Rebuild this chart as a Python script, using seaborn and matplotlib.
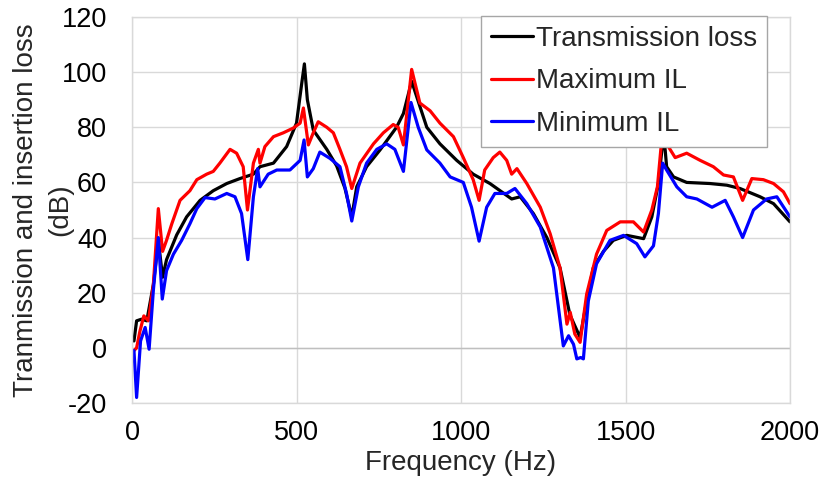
import numpy as np
import pandas as pd
import matplotlib
matplotlib.use('Agg')
import matplotlib.pyplot as plt
import seaborn as sns

# Transmission loss
tl_f = [6, 14, 29, 45, 65, 80, 93, 105, 136, 166, 207, 247, 288, 328, 369, 389, 430, 470,
        500, 516, 524, 533, 551, 592, 622, 647, 668, 683, 713, 754, 804, 825, 850, 875,
        896, 936, 987, 1037, 1088, 1154, 1180, 1220, 1261, 1301, 1331, 1346, 1362, 1382,
        1402, 1433, 1463, 1504, 1555, 1580, 1600, 1616, 1625, 1646, 1686, 1757, 1808,
        1848, 1909, 1950, 2000]
tl_db = [2.5, 9.8, 10.4, 9.8, 23, 39, 25.6, 32, 41, 47.5, 53.5, 57, 59.6, 61.4, 63, 65.7,
         67, 73, 81.5, 96, 103, 90, 79, 72, 66, 58, 47.5, 58.4, 65.7, 71.8, 80, 85, 96.7,
         87.6, 80, 74, 68, 63, 59.6, 54, 54.8, 48.7, 40, 29, 12, 8, 3.8, 17, 29, 35, 39,
         40.8, 39.6, 47.5, 59.6, 78, 65.7, 62, 60, 59.6, 59, 57.8, 54.8, 52.3, 45.7]

# Maximum IL
max_f = [6, 14, 24, 36, 50, 65, 80, 93, 105, 121, 146, 176, 197, 227, 247, 267, 298, 318,
         338, 351, 369, 384, 389, 404, 430, 460, 490, 511, 521, 536, 551, 566, 592, 612,
         632, 652, 668, 693, 734, 764, 794, 809, 825, 850, 875, 906, 936, 977, 1007, 1037,
         1055, 1072, 1098, 1118, 1139, 1154, 1170, 1200, 1241, 1271, 1301, 1322, 1332,
         1346, 1362, 1382, 1412, 1443, 1484, 1524, 1555, 1580, 1597, 1610, 1625, 1651,
         1686, 1727, 1767, 1798, 1828, 1856, 1884, 1919, 1950, 1980, 2000]
max_db = [-1, 0, 6, 11.6, 9.8, 23, 50.5, 35, 39, 45, 53.5, 57, 61, 63, 64, 67, 72, 70.6,
          65.7, 50, 67, 72, 67, 73, 76.6, 78, 79.7, 81.5, 87, 73.6, 78, 82, 80, 78, 72,
          65.7, 57.8, 67, 74, 78, 81, 80, 73.6, 101, 88.8, 86, 81.5, 76.6, 69, 61, 53.5,
          64.5, 69, 71, 68, 63, 65, 59.6, 51, 41.4, 29, 8.6, 12.9, 5, 2, 19.5, 34, 42.6,
          45.7, 45.7, 42, 50, 58.4, 75.4, 74, 69, 70.6, 68, 65.7, 62.7, 62, 53.5, 61.4,
          61, 59.6, 56.6, 52.3]

# Minimum IL
min_f = [6, 14, 26, 40, 52, 65, 80, 92, 105, 126, 151, 176, 197, 222, 252, 288, 313, 333,
         352, 369, 382, 389, 414, 440, 480, 511, 523, 533, 551, 571, 602, 632, 652, 668,
         688, 713, 744, 774, 799, 825, 848, 870, 896, 936, 967, 1007, 1032, 1055, 1078,
         1103, 1139, 1164, 1200, 1241, 1281, 1311, 1327, 1342, 1352, 1364, 1372, 1387,
         1412, 1453, 1494, 1534, 1559, 1585, 1600, 1613, 1625, 1656, 1686, 1717, 1763,
         1803, 1828, 1856, 1889, 1929, 1960, 2000]
min_db = [-1, -18, 2.5, 7.4, -0.5, 21, 40, 17.7, 28, 34, 39, 45, 50.5, 54.5, 54, 56, 54.8,
          48.7, 32, 54.8, 65, 58.4, 63, 64.5, 64.5, 68, 75.4, 62, 65, 71, 68.7, 65.7, 56,
          46, 58.4, 67, 72, 74, 72, 64, 89, 80, 71.8, 67, 62, 60, 51, 38.7, 51, 56, 56,
          57.8, 52.3, 43.8, 29, 0.7, 4.4, 1.3, -4, -3.5, -4, 17, 30.5, 39, 40.8, 37.8, 33,
          37, 48.7, 67, 64.5, 58.4, 54.8, 54, 51, 53.5, 47.5, 40, 50, 54, 54.8, 47.5]

series_names = ['Transmission loss', 'Maximum IL', 'Minimum IL']
colors = ['#000000', '#ff0000', '#0000ff']

df = pd.concat([
    pd.DataFrame({'f': tl_f, 'dB': tl_db, 'series': series_names[0]}),
    pd.DataFrame({'f': max_f, 'dB': max_db, 'series': series_names[1]}),
    pd.DataFrame({'f': min_f, 'dB': min_db, 'series': series_names[2]}),
])

sns.set_style('white')
plt.rcParams['font.family'] = ['Liberation Sans', 'DejaVu Sans']
plt.rcParams['axes.unicode_minus'] = False

fs = 20

fig = plt.figure(figsize=(8.24, 4.86), dpi=100)
ax = fig.add_axes([132 / 824, 1 - 403 / 486, (790 - 132) / 824, (403 - 17) / 486])

sns.lineplot(data=df, x='f', y='dB', hue='series', hue_order=series_names,
             palette=colors, linewidth=2.3, sort=False, estimator=None, ax=ax)

ax.set_xlim(0, 2000)
ax.set_ylim(-20, 120)
ax.set_xticks(range(0, 2001, 500))
ax.set_yticks(range(-20, 121, 20))
ax.grid(True, color='#d9d9d9', linewidth=1)
ax.axhline(0, color='#bfbfbf', linewidth=1, zorder=1)
for s in ax.spines.values():
    s.set_color('#d9d9d9')
    s.set_linewidth(1)
ax.tick_params(length=0, labelsize=19.5, colors='#000000')
ax.tick_params(axis='y', pad=18)
ax.tick_params(axis='x', pad=12)
ax.set_xlabel('Frequency (Hz)', fontsize=fs, labelpad=3)
ax.set_ylabel('Tranmission and insertion loss', fontsize=fs)
ax.yaxis.set_label_coords(-0.142, 0.5)
ax.text(-0.109, 0.5, '(dB)', transform=ax.transAxes, rotation=90,
        ha='center', va='center', fontsize=fs)

ax.legend(loc='upper right', bbox_to_anchor=(767 / 824, 1 - 16 / 486),
          bbox_transform=fig.transFigure, fontsize=fs, frameon=True, fancybox=False,
          edgecolor='#a6a6a6', framealpha=1, handlelength=1.5, handletextpad=0.12,
          borderpad=0.35, labelspacing=0.6, borderaxespad=0)

fig.savefig('out.png', dpi=100)
